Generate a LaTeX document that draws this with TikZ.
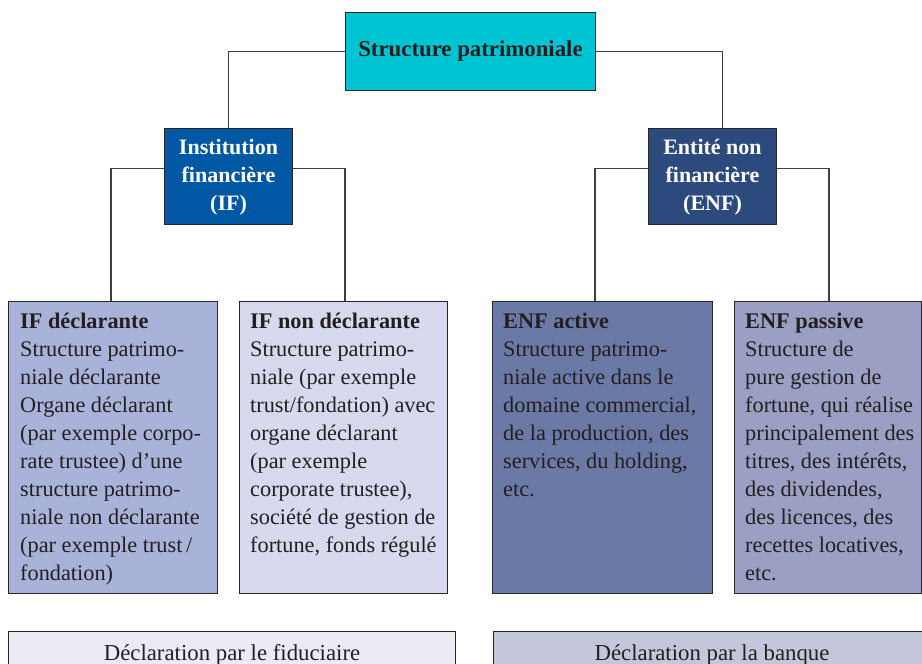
\documentclass[tikz,border=0pt]{standalone}
\usepackage{fontspec}
\setmainfont{Liberation Serif}
\usetikzlibrary{calc}
\definecolor{topc}{HTML}{00C4D2}
\definecolor{ifc}{HTML}{0057A3}
\definecolor{enfc}{HTML}{2D4A7F}
\definecolor{ifdc}{HTML}{A9B3DA}
\definecolor{ifnc}{HTML}{D7DAEE}
\definecolor{enfac}{HTML}{6B79A6}
\definecolor{enfpc}{HTML}{9A9FC3}
\definecolor{decfc}{HTML}{EBEAF5}
\definecolor{decbc}{HTML}{C4C7DC}
\definecolor{txt}{HTML}{231F20}
\tikzset{
  box/.style={draw=black!85, line width=1pt, rectangle, inner sep=0pt, anchor=north west},
  conn/.style={draw=black!75, line width=1.3pt},
  body/.style={anchor=north west, align=left, inner sep=0pt, font=\fontsize{22.3}{28}\selectfont, text=txt},
  headw/.style={align=center, inner sep=0pt, font=\bfseries\fontsize{22}{28}\selectfont, text=white},
}
\begin{document}
\begin{tikzpicture}[x=1pt,y=-1pt]
\useasboundingbox (0,0) rectangle (922,664);
\clip (0,0) rectangle (922,664);
% top
\node[box, fill=topc, minimum width=250, minimum height=78] (top) at (345,12) {};
\node[font=\bfseries\fontsize{22.8}{28}\selectfont, text=txt, inner sep=0pt] (topt) at (top.center) {Structure patrimoniale};
% level 2
\node[box, fill=ifc, minimum width=128, minimum height=96] (ifb) at (164,128) {};
\node[headw] (ifbt) at ($(ifb.center)+(0,1)$) {Institution\\financière\\(IF)};
\node[box, fill=enfc, minimum width=128, minimum height=96] (enf) at (648,128) {};
\node[headw] (enft) at ($(enf.center)+(0,1)$) {Entité non\\financière\\(ENF)};
% level 3
\node[box, fill=ifdc, minimum width=209, minimum height=292] (ifd) at (8,301) {};
\node[body] (ifdt) at (20,313) {\textbf{IF déclarante}\\Structure patrimo-\\niale déclarante\\Organe déclarant\\(par exemple corpo-\\rate trustee) d’une\\structure patrimo-\\niale non déclarante\\(par exemple trust\,/\\fondation)};
\node[box, fill=ifnc, minimum width=208, minimum height=292] (ifn) at (239,301) {};
\node[body] (ifnt) at (250,313) {\textbf{IF non déclarante}\\Structure patrimo-\\niale (par exemple\\trust/fondation) avec\\organe déclarant\\(par exemple\\corporate trustee),\\société de gestion de\\fortune, fonds régulé};
\node[box, fill=enfac, minimum width=220, minimum height=292] (enfa) at (492,301) {};
\node[body] (enfat) at (503,313) {\textbf{ENF active}\\Structure patrimo-\\niale active dans le\\domaine commercial,\\de la production, des\\services, du holding,\\etc.};
\node[box, fill=enfpc, minimum width=187, minimum height=292] (enfp) at (734,301) {};
\node[body] (enfpt) at (745,313) {\textbf{ENF passive}\\Structure de\\pure gestion de\\fortune, qui réalise\\principalement des\\titres, des intérêts,\\des dividendes,\\des licences, des\\recettes locatives,\\etc.};
% declarations
\node[box, fill=decfc, minimum width=447, minimum height=50] (decf) at (8,631) {};
\node[font=\fontsize{22.8}{28}\selectfont, text=txt, inner sep=0pt, anchor=base] (decft) at ($(decf.north)+(0,29)$) {Déclaration par le fiduciaire};
\node[box, fill=decbc, minimum width=440, minimum height=50] (decb) at (493,631) {};
\node[font=\fontsize{22.8}{28}\selectfont, text=txt, inner sep=0pt, anchor=base] (decbt) at (712,660) {Déclaration par la banque};
% connectors
\draw[conn] (top.west) -| (ifb.north);
\draw[conn] (top.east) -| ($(enf.north)+(10,0)$);
\draw[conn] ($(ifb.west)+(0,-8)$) -| ($(ifd.north west)+(103,0)$);
\draw[conn] ($(ifb.east)+(0,-8)$) -| ($(ifn.north west)+(106,0)$);
\draw[conn] ($(enf.west)+(0,-8)$) -| ($(enfa.north west)+(103,0)$);
\draw[conn] ($(enf.east)+(0,-8)$) -| ($(enfp.north west)+(95,0)$);
\end{tikzpicture}
\end{document}
